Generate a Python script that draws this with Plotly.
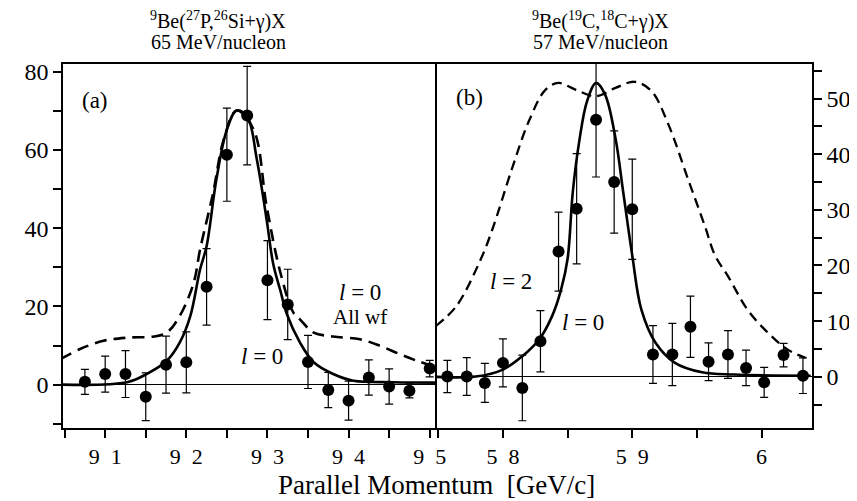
import plotly.graph_objects as go

# %% panel (a) : 9Be(27P,26Si+g)X
a_x = [90.75, 91.0, 91.25, 91.5, 91.75, 92.0, 92.25, 92.5, 92.75, 93.0, 93.25, 93.5,
       93.75, 94.0, 94.25, 94.5, 94.75, 95.0]
a_y = [0.7, 2.7, 2.7, -3.1, 5.1, 5.7, 25.0, 58.8, 68.8, 26.7, 20.5, 5.8,
       -1.4, -4.1, 1.8, -0.5, -1.6, 4.1]
a_err = [3.2, 4.6, 6.0, 6.1, 7.3, 7.8, 9.8, 11.9, 12.6, 10.1, 9.0, 6.8,
         4.5, 5.0, 4.5, 4.5, 1.8, 2.1]

a_l0_x = [90.45, 91.27, 91.51, 91.76, 91.92, 92.05, 92.17, 92.25, 92.37, 92.5, 92.62,
          92.75, 92.87, 92.99, 93.07, 93.16, 93.24, 93.4, 93.57, 93.81, 94.06, 94.55, 95.1]
a_l0_y = [0.0, 0.6, 2.7, 6.1, 10.8, 17.6, 29.5, 35.4, 52.4, 65.2, 70.1,
          68.6, 57.5, 42.2, 31.0, 24.0, 18.0, 10.8, 5.7, 2.7, 1.0, 0.6, 0.5]

a_wf_x = [90.45, 90.69, 90.98, 91.27, 91.6, 91.76, 91.92, 92.09, 92.17, 92.33, 92.46, 92.62,
          92.83, 92.99, 93.16, 93.32, 93.4, 93.57, 93.81, 94.14, 94.39, 94.63, 94.84, 95.04]
a_wf_y = [6.5, 9.1, 11.2, 12.0, 12.3, 13.3, 17.6, 26.0, 34.6, 49.0, 62.6, 70.1,
          65.2, 45.6, 28.6, 18.4, 16.7, 13.3, 12.3, 11.6, 9.9, 7.8, 6.1, 4.8]

a_tickvals = [90.5, 91, 91.5, 92, 92.5, 93, 93.5, 94, 94.5, 95]
a_ticktext = ["", "9\u20021", "", "9\u20022", "", "9\u20023", "", "9\u20024", "", "9\u20025"]
a_ytickvals = [-10, 0, 10, 20, 30, 40, 50, 60, 70, 80]
a_yticktext = ["", "0", "", "20", "", "40", "", "60", "", "80"]

# %% panel (b) : 9Be(19C,18C+g)X
b_x = [57.57, 57.72, 57.86, 58.0, 58.15, 58.29, 58.43, 58.57, 58.72, 58.86, 59.0,
       59.16, 59.31, 59.45, 59.59, 59.74, 59.88, 60.02, 60.17, 60.32]
b_y = [0.05, 0.05, -1.1, 2.5, -2.0, 6.4, 22.5, 30.2, 46.2, 35.0, 30.1,
       4.0, 4.0, 9.0, 2.7, 4.0, 1.6, -1.0, 3.9, 0.2]
b_err = [2.9, 3.4, 3.5, 4.3, 5.9, 5.5, 7.1, 9.9, 10.3, 9.2, 9.0,
         5.2, 5.6, 5.5, 3.4, 4.3, 3.2, 2.7, 2.1, 3.2]

b_l0_x = [57.48, 57.79, 58.0, 58.15, 58.28, 58.38, 58.45, 58.5, 58.54, 58.59, 58.65,
          58.72, 58.79, 58.87, 58.93, 59.0, 59.07, 59.18, 59.33, 59.54, 59.79, 60.38]
b_l0_y = [0.0, 0.05, 1.3, 3.7, 6.7, 10.9, 15.7, 21.2, 33.2, 42.3, 49.5,
          52.8, 50.7, 42.9, 33.2, 21.8, 12.1, 6.1, 2.5, 0.8, 0.4, 0.2]

b_l2_x = [57.48, 57.64, 57.83, 57.92, 58.07, 58.2, 58.33, 58.43, 58.56, 58.72, 58.87,
          59.02, 59.15, 59.28, 59.43, 59.56, 59.64, 59.74, 59.89, 60.05, 60.2, 60.34]
b_l2_y = [9.1, 12.7, 21.2, 26.6, 37.4, 45.9, 51.6, 52.8, 51.6, 50.4, 51.9,
          53.0, 51.3, 45.3, 35.6, 27.2, 21.8, 18.1, 12.1, 7.9, 4.9, 3.4]

b_tickvals = [57.5, 58, 58.5, 59, 59.5, 60]
b_ticktext = ["", "5\u20028", "", "5\u20029", "", "6"]
b_ytickvals = [-5, 0, 5, 10, 15, 20, 25, 30, 35, 40, 45, 50, 55]
b_yticktext = ["", "0", "", "10", "", "20", "", "30", "", "40", "", "50", ""]

# %%
FONT = "Liberation Serif, Times New Roman, serif"
fig = go.Figure()

def add_panel(fig, xa, ya, xs, ys, err, solid_x, solid_y, dash_x, dash_y, dash, dash_w):
    fig.add_trace(go.Scatter(x=dash_x, y=dash_y, mode="lines", line_shape="spline",
                             line=dict(color="black", width=dash_w, dash=dash),
                             xaxis=xa, yaxis=ya, showlegend=False))
    fig.add_trace(go.Scatter(x=solid_x, y=solid_y, mode="lines", line_shape="spline",
                             line=dict(color="black", width=2.6),
                             xaxis=xa, yaxis=ya, showlegend=False))
    fig.add_trace(go.Scatter(x=xs, y=ys, mode="markers",
                             marker=dict(color="black", size=12),
                             error_y=dict(type="data", array=err, color="black",
                                          thickness=1.2, width=4),
                             xaxis=xa, yaxis=ya, showlegend=False))

add_panel(fig, "x", "y", a_x, a_y, a_err, a_l0_x, a_l0_y, a_wf_x, a_wf_y, "12px,7px", 2.6)
add_panel(fig, "x2", "y2", b_x, b_y, b_err, b_l0_x, b_l0_y, b_l2_x, b_l2_y, "10px,6px", 2.3)

def axis_style(size, mirror=True):
    return dict(showline=True, linecolor="black", linewidth=1.5, mirror=mirror,
                ticks="outside", ticklen=8, tickwidth=1.5, tickcolor="black",
                showgrid=False, tickfont=dict(family=FONT, size=size, color="black"))

# the page body has an 8px margin, margins are shifted to compensate
split = (437 - 63) / 749
fig.update_layout(
    width=857, height=501,
    margin=dict(l=55, r=53, t=56, b=81),
    plot_bgcolor="white", paper_bgcolor="white",
    xaxis=dict(domain=[0, split], range=[90.48, 95.09], anchor="y",
               tickmode="array", tickvals=a_tickvals, ticktext=a_ticktext,
               zeroline=False, **axis_style(22)),
    yaxis=dict(domain=[0, 1], range=[-11.1, 82.0], anchor="x",
               tickmode="array", tickvals=a_ytickvals, ticktext=a_yticktext,
               zeroline=True, zerolinecolor="black", zerolinewidth=1.2,
               **axis_style(24, mirror=False)),
    xaxis2=dict(domain=[split, 1], range=[57.49, 60.39], anchor="y2",
                tickmode="array", tickvals=b_tickvals, ticktext=b_ticktext,
                zeroline=False, **axis_style(22)),
    yaxis2=dict(domain=[0, 1], range=[-9.2, 56.2], anchor="x2", side="right",
                tickmode="array", tickvals=b_ytickvals, ticktext=b_yticktext,
                zeroline=True, zerolinecolor="black", zerolinewidth=1.2,
                **axis_style(24)),
)

# %% texts
def note(text, x, y, xref, yref, size=23, yanchor="middle"):
    fig.add_annotation(text=text, x=x, y=y, xref=xref, yref=yref, showarrow=False,
                       xanchor="center", yanchor=yanchor,
                       font=dict(family=FONT, size=size, color="black"))

note("<sup>9</sup>Be(<sup>27</sup>P,<sup>26</sup>Si+γ)X", 0.207, 1.08, "paper", "paper", 20, "bottom")
note("65 MeV/nucleon", 0.207, 1.025, "paper", "paper", 20, "bottom")
note("<sup>9</sup>Be(<sup>19</sup>C,<sup>18</sup>C+γ)X", 0.718, 1.08, "paper", "paper", 20, "bottom")
note("57 MeV/nucleon", 0.718, 1.025, "paper", "paper", 20, "bottom")
note("Parallel Momentum  [GeV/c]", 0.498, -0.156, "paper", "paper", 27)

note("(a)", 90.88, 72.6, "x", "y")
note("<i>l</i> = 0", 94.14, 23.6, "x", "y")
note("All wf", 94.14, 17.2, "x", "y", 21)
note("<i>l</i> = 0", 92.93, 7.3, "x", "y")

note("(b)", 57.74, 50.1, "x2", "y2")
note("<i>l</i> = 2", 58.06, 17.2, "x2", "y2")
note("<i>l</i> = 0", 58.62, 9.8, "x2", "y2")

fig.write_html("out.html")
